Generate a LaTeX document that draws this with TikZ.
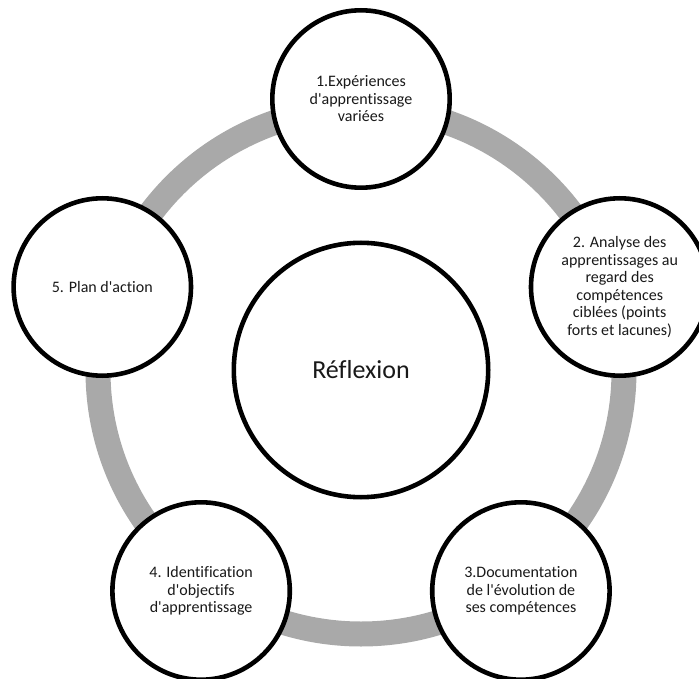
\documentclass[tikz,border=0pt]{standalone}
\usepackage{fontspec}
\setmainfont{Carlito}[Ligatures={TeXOff,CommonOff}]
\definecolor{ringgray}{RGB}{169,169,169}
\definecolor{txt}{RGB}{25,25,25}
\tikzset{
  stepcircle/.style={circle, draw=black, line width=4.6pt, fill=white, minimum size=177.4pt, inner sep=0pt, align=center, text=txt, font=\fontsize{16}{17.5}\selectfont},
  hubcircle/.style={circle, draw=black, line width=4.6pt, fill=white, minimum size=254.4pt, inner sep=0pt, align=center, text=txt, font=\fontsize{26}{30}\selectfont},
}
\begin{document}
\begin{tikzpicture}[x=1pt,y=-1pt]
\useasboundingbox (0,0) rectangle (699,679);
\clip (0,0) rectangle (699,679);
\coordinate (ctr) at (361,371);
\draw[ringgray, line width=25pt] (ctr) circle[radius=263pt];
\node[hubcircle] (hub) at (361,370) {Réflexion};
\node[stepcircle] (s1) at (361,99) {1.Expériences\\d'apprentissage\\variées};
\node[stepcircle] (s2) at (619.7,287) {2. Analyse des\\apprentissages au\\regard des\\compétences\\ciblées (points\\forts et lacunes)};
\node[stepcircle] (s3) at (520.9,591) {3.Documentation\\de l'évolution de\\ses compétences};
\node[stepcircle] (s4) at (201.1,591) {4. Identification\\d'objectifs\\d'apprentissage};
\node[stepcircle] (s5) at (102.3,287) {5. Plan d'action};
\end{tikzpicture}
\end{document}
